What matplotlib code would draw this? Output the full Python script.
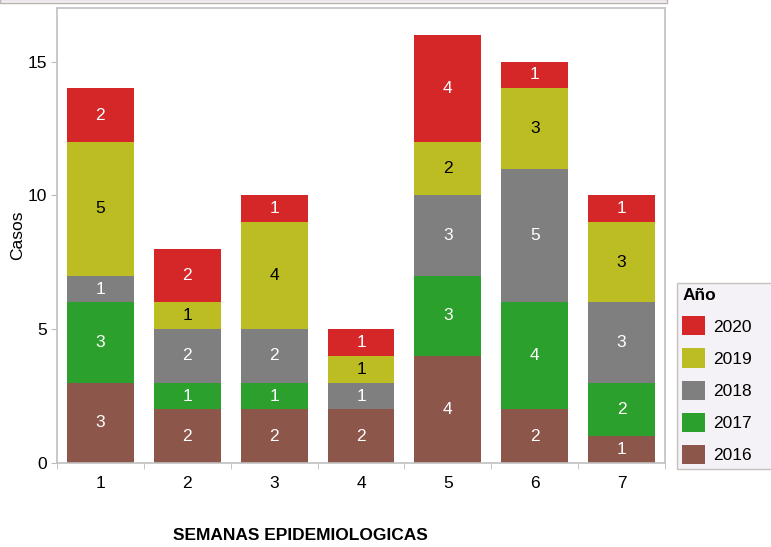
import matplotlib.pyplot as plt
import numpy as np

plt.rcParams['font.family'] = ['Liberation Sans', 'DejaVu Sans']

# Data
weeks = ['1', '2', '3', '4', '5', '6', '7']
years = ['2016', '2017', '2018', '2019', '2020']
cases_2016 = [3, 2, 2, 2, 4, 2, 1]
cases_2017 = [3, 1, 1, 0, 3, 4, 2]
cases_2018 = [1, 2, 2, 1, 3, 5, 3]
cases_2019 = [5, 1, 4, 1, 2, 3, 3]
cases_2020 = [2, 2, 1, 1, 4, 1, 1]
series = [cases_2016, cases_2017, cases_2018, cases_2019, cases_2020]

colors = ['#8c564b', '#2ca02c', '#7f7f7f', '#bcbd22', '#d62728']
text_colors = ['white', 'white', 'white', 'black', 'white']
fs = 12.5

fig = plt.figure(figsize=(7.71, 5.47), dpi=100)
ax = fig.add_axes([57 / 771, 1 - 463 / 547, 608 / 771, 455 / 547])

x = np.arange(len(weeks))
bottom = np.zeros(len(weeks))
handles = []
for vals, col, tcol, yr in zip(series, colors, text_colors, years):
    vals = np.array(vals, dtype=float)
    bars = ax.bar(x, vals, 0.77, bottom=bottom, color=col, linewidth=0, label=yr)
    handles.append(bars)
    for xi, v, b in zip(x, vals, bottom):
        if v > 0:
            ax.text(xi, b + v / 2, f'{int(v)}', ha='center', va='center',
                    color=tcol, fontsize=fs)
    bottom += vals

ax.set_xlim(-0.5, len(weeks) - 0.5)
ax.set_ylim(0, 17)
ax.set_yticks([0, 5, 10, 15])
ax.set_xticks(x)
ax.set_xticklabels(weeks)
ax.set_xticks(np.arange(len(weeks) + 1) - 0.5, minor=True)
ax.tick_params(axis='x', which='major', length=0, pad=9, labelsize=fs)
ax.tick_params(axis='x', which='minor', length=4, color='#bbbbbb', direction='out')
ax.tick_params(axis='y', length=4, color='#bbbbbb', labelsize=fs, pad=3)
for s in ax.spines.values():
    s.set_color('#c0c0c0')
    s.set_linewidth(1.2)

ax.set_ylabel('Casos', fontsize=fs, labelpad=2)
fig.text(300 / 771, 1 - 536 / 547, 'SEMANAS EPIDEMIOLOGICAS', ha='center',
         va='center', fontsize=fs, fontweight='bold')

leg = fig.legend(handles[::-1], years[::-1], title='Año',
                 loc='upper left',
                 bbox_to_anchor=(677 / 771, 1 - 469 / 547, 100 / 771, 186 / 547),
                 mode='expand', frameon=True, fancybox=False, fontsize=fs,
                 handlelength=1.32, handleheight=1.32, handletextpad=0.45,
                 labelspacing=0.75, borderpad=0.3, borderaxespad=0)
leg.get_frame().set_facecolor('#f3eff5')
leg.get_frame().set_edgecolor('#b8b4b0')
leg.get_title().set_fontweight('bold')
leg.get_title().set_fontsize(fs)
leg._legend_box.align = 'left'

# strip along the top edge
fig.patches.append(plt.Rectangle((0, 1 - 3 / 547), 667 / 771, 4 / 547,
                                 transform=fig.transFigure, facecolor='#f3eff5',
                                 edgecolor='#b8b4b0', linewidth=1))

fig.savefig('out.png', dpi=100)
